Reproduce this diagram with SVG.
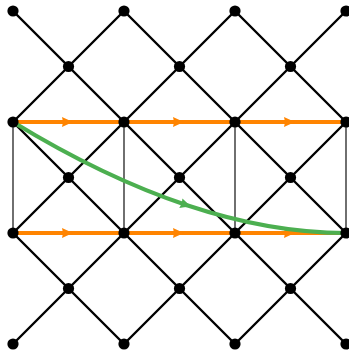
<svg xmlns="http://www.w3.org/2000/svg" width="349" height="351" viewBox="0 0 349 351">
<style>
.lat{stroke:#000;stroke-width:2.4;fill:none;stroke-linecap:round}
.vert{stroke:#333;stroke-width:1.4;fill:none}
.or{stroke:#ff8400;stroke-width:4;fill:none;marker-mid:url(#ah-o)}
.gr{stroke:#4caf50;stroke-width:4;fill:none;marker-mid:url(#ah-g)}
.dot{fill:#000}
</style>
<defs>
<marker id="ah-o" markerUnits="userSpaceOnUse" viewBox="-8 -6 16 12" markerWidth="16" markerHeight="12" refX="0" refY="0" orient="auto" overflow="visible">
<path d="M6.5,0 Q0,-1.5 -6.5,-5 L-5.5,0 L-6.5,5 Q0,1.5 6.5,0 Z" fill="#ff8400"/>
</marker>
<marker id="ah-g" markerUnits="userSpaceOnUse" viewBox="-8 -6 16 12" markerWidth="16" markerHeight="12" refX="0" refY="0" orient="auto" overflow="visible">
<path d="M6.5,0 Q0,-1.5 -6.5,-5 L-5.5,0 L-6.5,5 Q0,1.5 6.5,0 Z" fill="#4caf50"/>
</marker>
</defs>
<rect width="349" height="351" fill="#fff"/>
<g id="connectors">
<g id="lattice">
<line class="lat" x1="13" y1="11" x2="346" y2="344"/>
<line class="lat" x1="124" y1="11" x2="346" y2="233"/>
<line class="lat" x1="235" y1="11" x2="346" y2="122"/>
<line class="lat" x1="13" y1="122" x2="235" y2="344"/>
<line class="lat" x1="13" y1="233" x2="124" y2="344"/>
<line class="lat" x1="124" y1="11" x2="13" y2="122"/>
<line class="lat" x1="235" y1="11" x2="13" y2="233"/>
<line class="lat" x1="346" y1="11" x2="13" y2="344"/>
<line class="lat" x1="346" y1="122" x2="124" y2="344"/>
<line class="lat" x1="346" y1="233" x2="235" y2="344"/>
</g>
<g id="verticals">
<line class="vert" x1="13" y1="122" x2="13" y2="233"/>
<line class="vert" x1="124" y1="122" x2="124" y2="233"/>
<line class="vert" x1="235" y1="122" x2="235" y2="233"/>
<line class="vert" x1="346" y1="122" x2="346" y2="233"/>
</g>
<g id="orange">
<path class="or" d="M13,122 L68.5,122 L124,122"/>
<path class="or" d="M124,122 L179.5,122 L235,122"/>
<path class="or" d="M235,122 L290.5,122 L346,122"/>
<path class="or" d="M13,233 L68.5,233 L124,233"/>
<path class="or" d="M124,233 L179.5,233 L235,233"/>
<path class="or" d="M235,233 L290.5,233 L346,233"/>
</g>
<g id="green">
<path class="gr" d="M13,122 Q103.75,177.5 187,205.25 Q270.25,233 346,233"/>
</g>
</g>
<g id="nodes">
<g id="n00"><circle class="dot" cx="13" cy="11" r="5.6"/></g>
<g id="n20"><circle class="dot" cx="124" cy="11" r="5.6"/></g>
<g id="n40"><circle class="dot" cx="235" cy="11" r="5.6"/></g>
<g id="n60"><circle class="dot" cx="346" cy="11" r="5.6"/></g>
<g id="n11"><circle class="dot" cx="68.5" cy="66.5" r="5.6"/></g>
<g id="n31"><circle class="dot" cx="179.5" cy="66.5" r="5.6"/></g>
<g id="n51"><circle class="dot" cx="290.5" cy="66.5" r="5.6"/></g>
<g id="n02"><circle class="dot" cx="13" cy="122" r="5.6"/></g>
<g id="n22"><circle class="dot" cx="124" cy="122" r="5.6"/></g>
<g id="n42"><circle class="dot" cx="235" cy="122" r="5.6"/></g>
<g id="n62"><circle class="dot" cx="346" cy="122" r="5.6"/></g>
<g id="n13"><circle class="dot" cx="68.5" cy="177.5" r="5.6"/></g>
<g id="n33"><circle class="dot" cx="179.5" cy="177.5" r="5.6"/></g>
<g id="n53"><circle class="dot" cx="290.5" cy="177.5" r="5.6"/></g>
<g id="n04"><circle class="dot" cx="13" cy="233" r="5.6"/></g>
<g id="n24"><circle class="dot" cx="124" cy="233" r="5.6"/></g>
<g id="n44"><circle class="dot" cx="235" cy="233" r="5.6"/></g>
<g id="n64"><circle class="dot" cx="346" cy="233" r="5.6"/></g>
<g id="n15"><circle class="dot" cx="68.5" cy="288.5" r="5.6"/></g>
<g id="n35"><circle class="dot" cx="179.5" cy="288.5" r="5.6"/></g>
<g id="n55"><circle class="dot" cx="290.5" cy="288.5" r="5.6"/></g>
<g id="n06"><circle class="dot" cx="13" cy="344" r="5.6"/></g>
<g id="n26"><circle class="dot" cx="124" cy="344" r="5.6"/></g>
<g id="n46"><circle class="dot" cx="235" cy="344" r="5.6"/></g>
<g id="n66"><circle class="dot" cx="346" cy="344" r="5.6"/></g>
</g>
</svg>
